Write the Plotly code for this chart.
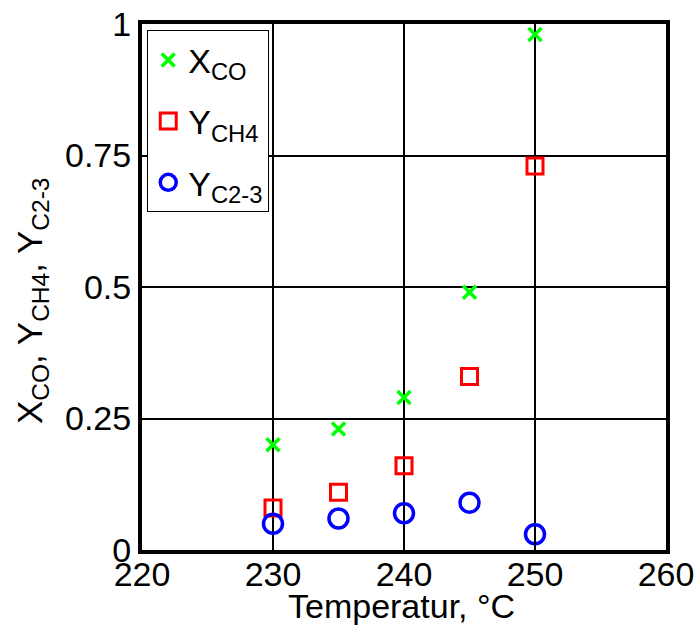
import plotly.graph_objects as go

temps = [230, 235, 240, 245, 250]
x_co = [0.20, 0.23, 0.29, 0.49, 0.98]
y_ch4 = [0.08, 0.11, 0.16, 0.33, 0.73]
y_c23 = [0.05, 0.06, 0.07, 0.09, 0.03]

x_ticks = [220, 230, 240, 250, 260]
y_ticks = [0, 0.25, 0.5, 0.75, 1]
y_tick_labels = ["0", "0.25", "0.5", "0.75", "1"]

x_title = "Temperatur, °C"
y_title = "X<sub>CO</sub>, Y<sub>CH4</sub>, Y<sub>C2-3</sub>"

fig = go.Figure()
fig.add_trace(go.Scatter(x=temps, y=x_co, mode="markers", name="X<sub>CO</sub>",
                         legendgroup="a",
                         marker=dict(symbol="x-thin-open", size=13, color="#00ff00",
                                     line=dict(width=3.5, color="#00ff00"))))
fig.add_trace(go.Scatter(x=temps, y=y_ch4, mode="markers", name="Y<sub>CH4</sub>",
                         legendgroup="b",
                         marker=dict(symbol="square-open", size=16, color="#ff0000",
                                     line=dict(width=3))))
fig.add_trace(go.Scatter(x=temps, y=y_c23, mode="markers", name="Y<sub>C2-3</sub>",
                         legendgroup="c",
                         marker=dict(symbol="circle-open", size=19, color="#0000ff",
                                     line=dict(width=3.5))))

font = "Liberation Sans, Arial, sans-serif"
fig.update_layout(
    width=696, height=627,
    margin=dict(l=142, r=30, t=24, b=77),
    paper_bgcolor="white", plot_bgcolor="white",
    font=dict(family=font, size=34, color="black"),
    showlegend=True,
    legend=dict(x=0.01, y=0.988, xanchor="left", yanchor="top",
                bgcolor="white", bordercolor="black", borderwidth=1,
                font=dict(size=34, family=font), tracegroupgap=14,
                itemsizing="trace"),
    annotations=[
        dict(text=x_title, xref="paper", yref="paper", x=0.496, y=-0.1445,
             xanchor="center", yanchor="bottom", showarrow=False, borderpad=0,
             font=dict(size=34, family=font, color="black")),
        dict(text=y_title, xref="paper", yref="paper", x=-0.21, y=0.475,
             xanchor="center", yanchor="middle", showarrow=False, textangle=-90,
             borderpad=0,
             font=dict(size=35, family=font, color="black")),
    ],
)
fig.update_xaxes(range=[220, 260], tickvals=x_ticks, ticks="inside", ticklen=8,
                 tickwidth=2, tickcolor="black",
                 showgrid=True, gridcolor="black", gridwidth=2,
                 showline=True, linecolor="black", linewidth=4, mirror=True,
                 zeroline=False, automargin=False, ticklabelstandoff=-9,
                 tickfont=dict(size=34))
fig.update_yaxes(range=[0, 1], tickvals=y_ticks, ticktext=y_tick_labels,
                 ticks="inside", ticklen=8, tickwidth=2, tickcolor="black",
                 showgrid=True, gridcolor="black", gridwidth=2,
                 showline=True, linecolor="black", linewidth=4, mirror=True,
                 zeroline=False, automargin=False,
                 tickfont=dict(size=34))

fig.write_html("out.html")
